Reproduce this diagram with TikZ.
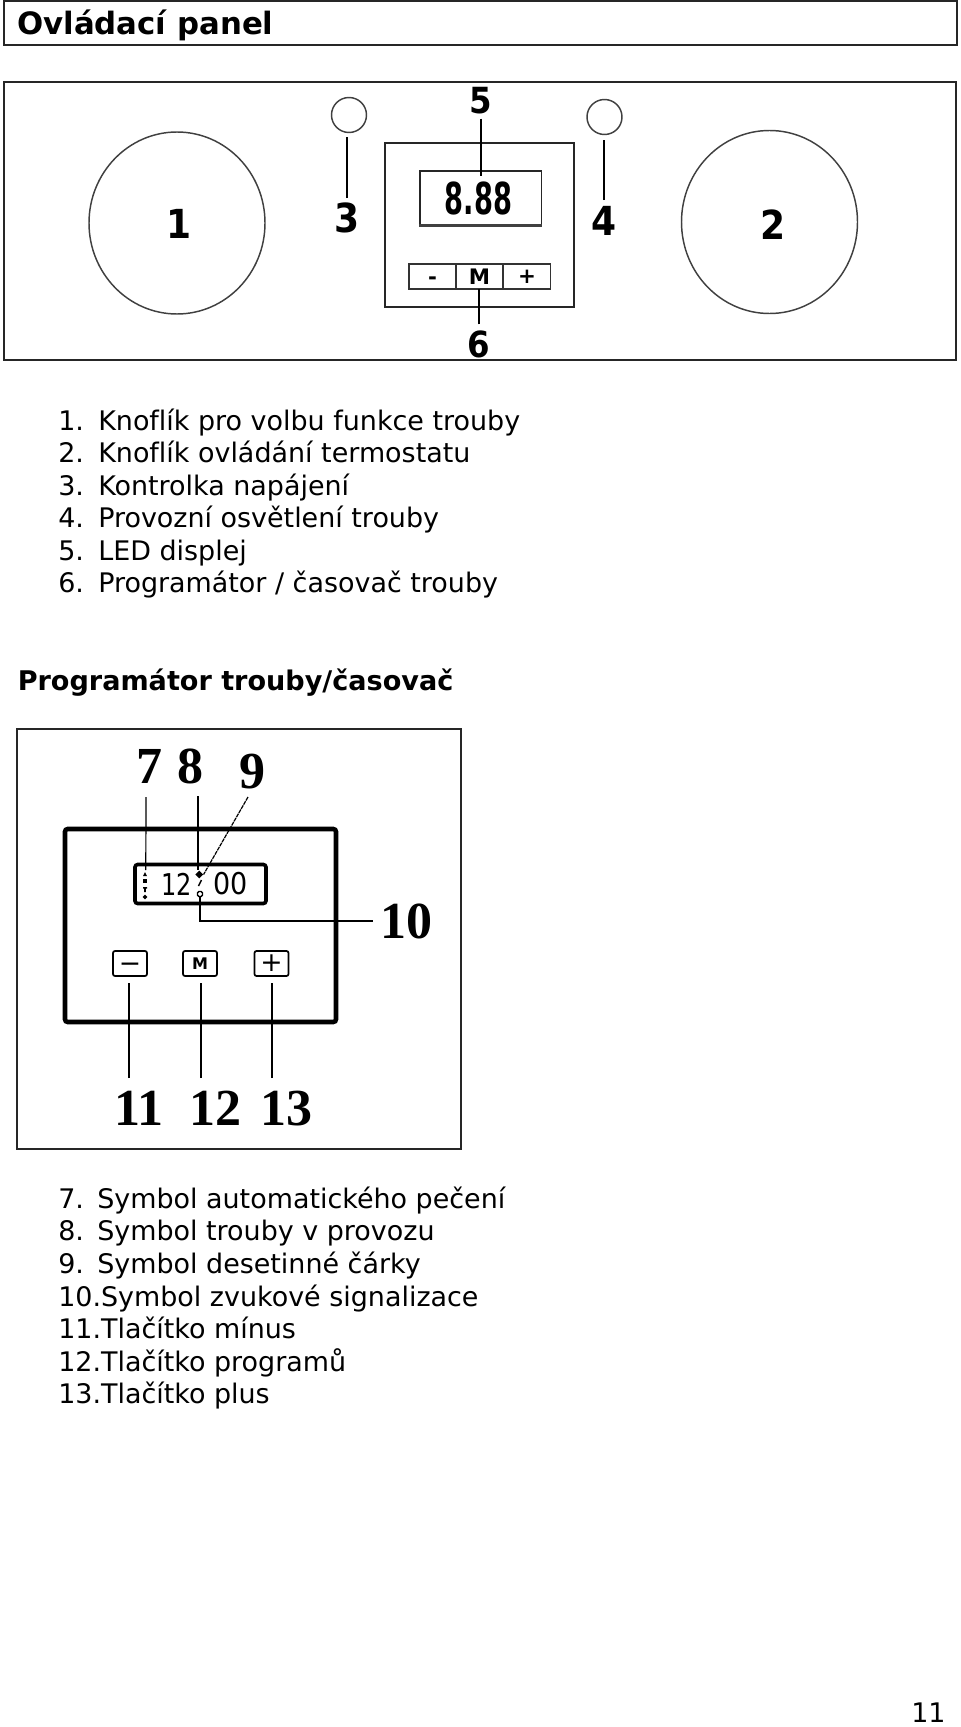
\documentclass[tikz,border=0pt]{standalone}
\usepackage{fontspec}
\setmainfont[Ligatures=NoCommon]{DejaVu Sans}
\newfontfamily\serifnum{Liberation Serif}
\usepackage{tikz}
\usetikzlibrary{arrows.meta,positioning,calc,fit,shapes.geometric}
\def\px{0.75pt}

\begin{document}
\begin{tikzpicture}[
  x=0.75pt,
  y=-0.75pt,
  frame/.style={draw=black!85, line width=1.4pt, inner sep=0pt},
  knob/.style={draw=black!75, line width=1.1pt, ellipse, inner sep=0pt},
  lead/.style={draw=black, line width=1.5pt},
  thinlead/.style={draw=black, line width=0.9pt},
  callout/.style={font=\bfseries\fontsize{30}{30}\selectfont, inner sep=0pt, text height=22pt, text depth=0pt, xscale=0.9, transform shape},
  sercall/.style={font=\serifnum\bfseries\fontsize{39}{39}\selectfont, inner sep=0pt, text height=26pt, text depth=0pt},
  keya/.style={draw=black!80, line width=1pt, inner sep=0pt, minimum width=47*\px, minimum height=25*\px, font=\bfseries\fontsize{16}{16}\selectfont},
  keyb/.style={draw=black, line width=1.3pt, rounded corners=1.5pt, inner sep=0pt, minimum width=34*\px, minimum height=25*\px, font=\fontsize{20}{20}\selectfont},
  body/.style={font=\fontsize{20.2}{20.2}\selectfont, anchor=base west, inner sep=0pt},
  head/.style={font=\bfseries\fontsize{20.3}{20.3}\selectfont, anchor=base west, inner sep=0pt}
]
\useasboundingbox (0,0) rectangle (960,1727);

% Heading bar.
\node[frame, minimum width=953*\px, minimum height=44*\px] (titlebar) at (480.5,23) {};
\node[head, font=\bfseries\fontsize{23.1}{23.1}\selectfont] (title) at (17,35) {Ovládací panel};

% Upper panel: knobs, lamps and timer.
\node[frame, line width=1.6pt, minimum width=952*\px, minimum height=278*\px] (panel) at (480,221) {};
\node[knob, minimum width=176*\px, minimum height=182*\px] (knoba) at (177,223) {};
\node[knob, minimum width=176*\px, minimum height=183*\px] (knobb) at (769.5,222) {};
\node[knob, minimum width=35*\px, minimum height=35*\px] (lampc) at (349,115) {};
\node[knob, minimum width=35*\px, minimum height=35*\px] (lampd) at (604.5,117) {};
\node[frame, line width=1.1pt, minimum width=189*\px, minimum height=164*\px] (timer) at (479.5,225) {};
\node[frame, line width=1pt, minimum width=121.5*\px, minimum height=54*\px] (screen) at (480.75,198) {};
\draw[line width=2pt, draw=black!75] (screen.south west) -- (screen.south east);
\node[inner sep=0pt, xscale=0.62, transform shape, font=\bfseries\fontsize{33}{33}\selectfont] (digits) at (478.5,198) {8.88};
\node[keya, text height=12.6pt, text depth=0pt] (minusa) at (432.5,276.5) {-};
\node[keya] (proga) at (479.5,276.5) {M};
\node[keya] (plusa) at (527,276.5) {+};

\node[callout] (laba) at (179.5,224) {1};
\node[callout] (labb) at (773,225) {2};
\node[callout] (labc) at (347,218) {3};
\node[callout] (labd) at (604,221) {4};
\node[callout, font=\bfseries\fontsize{27}{27}\selectfont, text height=20pt] (labe) at (481,100) {5};
\node[callout, font=\bfseries\fontsize{27}{27}\selectfont, text height=20pt] (labf) at (479,344) {6};

\draw[lead, shorten <=5*\px, shorten >=4*\px] (labc.north) -- (labc.north |- lampc.south);
\draw[lead, shorten <=6*\px, shorten >=5*\px] (labd.north) -- (labd.north |- lampd.south);
\draw[lead, shorten <=5*\px, shorten >=-6*\px] (labe.south) -- (labe.south |- screen.north);
\draw[lead, shorten <=6*\px, shorten >=-1*\px] (labf.north) -- (labf.north |- proga.south);

% First list.
\foreach \yy/\num/\lab in {430/1/Knoflík pro volbu funkce trouby,462/2/Knoflík ovládání termostatu,495/3/Kontrolka napájení,527.5/4/Provozní osvětlení trouby,560/5/LED displej,592.5/6/{Programátor / časovač trouby}} {
  \node[body] (itema\num) at (58,\yy) {\num.};
  \node[body] (texta\num) at (98,\yy) {\lab};
}

\node[head] (subhead) at (17.5,690) {Programátor trouby/časovač};

% Lower panel: programmer detail.
\node[frame, line width=1.1pt, minimum width=444*\px, minimum height=420*\px] (detail) at (239,939) {};
\node[draw=black, line width=3.4pt, rounded corners=2pt, inner sep=0pt, minimum width=271*\px, minimum height=193*\px] (case) at (200.5,925.5) {};
\node[draw=black, line width=2.7pt, rounded corners=2pt, inner sep=0pt, minimum width=131*\px, minimum height=39*\px] (lcd) at (200.5,884) {};

\node[inner sep=0pt, xscale=0.8, transform shape, font=\fontsize{22.5}{22.5}\selectfont] (hours) at (177,884) {12};
\node[inner sep=0pt, xscale=0.9, transform shape, font=\fontsize{22.5}{22.5}\selectfont] (mins) at (231,884) {00};

% Symbols inside the display.
\fill (143,876) -- (145,872) -- (147,876) -- cycle;
\fill (143,879) rectangle (147,883);
\fill (143,887) -- (147,887) -- (147,888.5) -- (145.8,888.5) -- (145.8,892) -- (144.2,892) -- (144.2,888.5) -- (143,888.5) -- cycle;
\node[fill=black, diamond, inner sep=0pt, minimum size=5*\px] (symauto) at (145,897) {};
\node[fill=black, diamond, inner sep=0pt, minimum size=8*\px] (symoven) at (199.3,874.5) {};
\draw[line width=1.1pt] (201.5,880) -- (198.5,886);
\node[draw=black, line width=1pt, rounded corners=1pt, inner sep=0pt, minimum size=5*\px] (symbell) at (200,894) {};
\coordinate (symauto7) at (145.8,870);

\node[keyb, text height=12.9pt, text depth=0pt] (minusb) at (130,963.5) {−};
\node[keyb, font=\bfseries\fontsize{12}{12}\selectfont] (progb) at (200,963.5) {M};
\node[keyb] (plusb) at (271.5,963.5) {+};

\node[sercall] (labg) at (149,766) {7};
\node[sercall] (labh) at (190,766) {8};
\node[sercall] (labi) at (252,771) {9};
\node[sercall, anchor=west] (labj) at (380,921) {10};
\node[sercall] (labk) at (139,1108) {11};
\node[sercall] (labl) at (215,1108) {12};
\node[sercall] (labm) at (286,1108) {13};

\coordinate (topg) at (146,797);
\coordinate (toph) at (198,796);
\coordinate (topi) at (248,797);
\coordinate (botk) at (129,1078);
\coordinate (botl) at (201,1078);
\coordinate (botm) at (272,1078);

\draw[thinlead] (topg) -- (symauto7);
\draw[thinlead] (toph) -- (toph |- symoven.north);
\draw[thinlead, dash pattern=on 3pt off 0.6pt] (topi) -- (symoven.east);
\draw[thinlead, shorten >=7*\px] (symbell.south) |- (labj.west);
\draw[thinlead, shorten >=6*\px] (botk) -- (botk |- minusb.south);
\draw[thinlead, shorten >=6*\px] (botl) -- (botl |- progb.south);
\draw[thinlead, shorten >=6*\px] (botm) -- (botm |- plusb.south);

% Second list.
\foreach \yy/\num/\lab in {1208/7/Symbol automatického pečení,1240/8/Symbol trouby v provozu,1273/9/Symbol desetinné čárky} {
  \node[body] (itemb\num) at (58,\yy) {\num.};
  \node[body] (textb\num) at (97,\yy) {\lab};
}
\foreach \yy/\num/\lab in {1306/10/Symbol zvukové signalizace,1338/11/Tlačítko mínus,1371/12/Tlačítko programů,1403/13/Tlačítko plus} {
  \node[body] (itemb\num) at (58,\yy) {\num.\lab};
}

\node[body] (pageno) at (911,1722) {11};
\end{tikzpicture}
\end{document}
